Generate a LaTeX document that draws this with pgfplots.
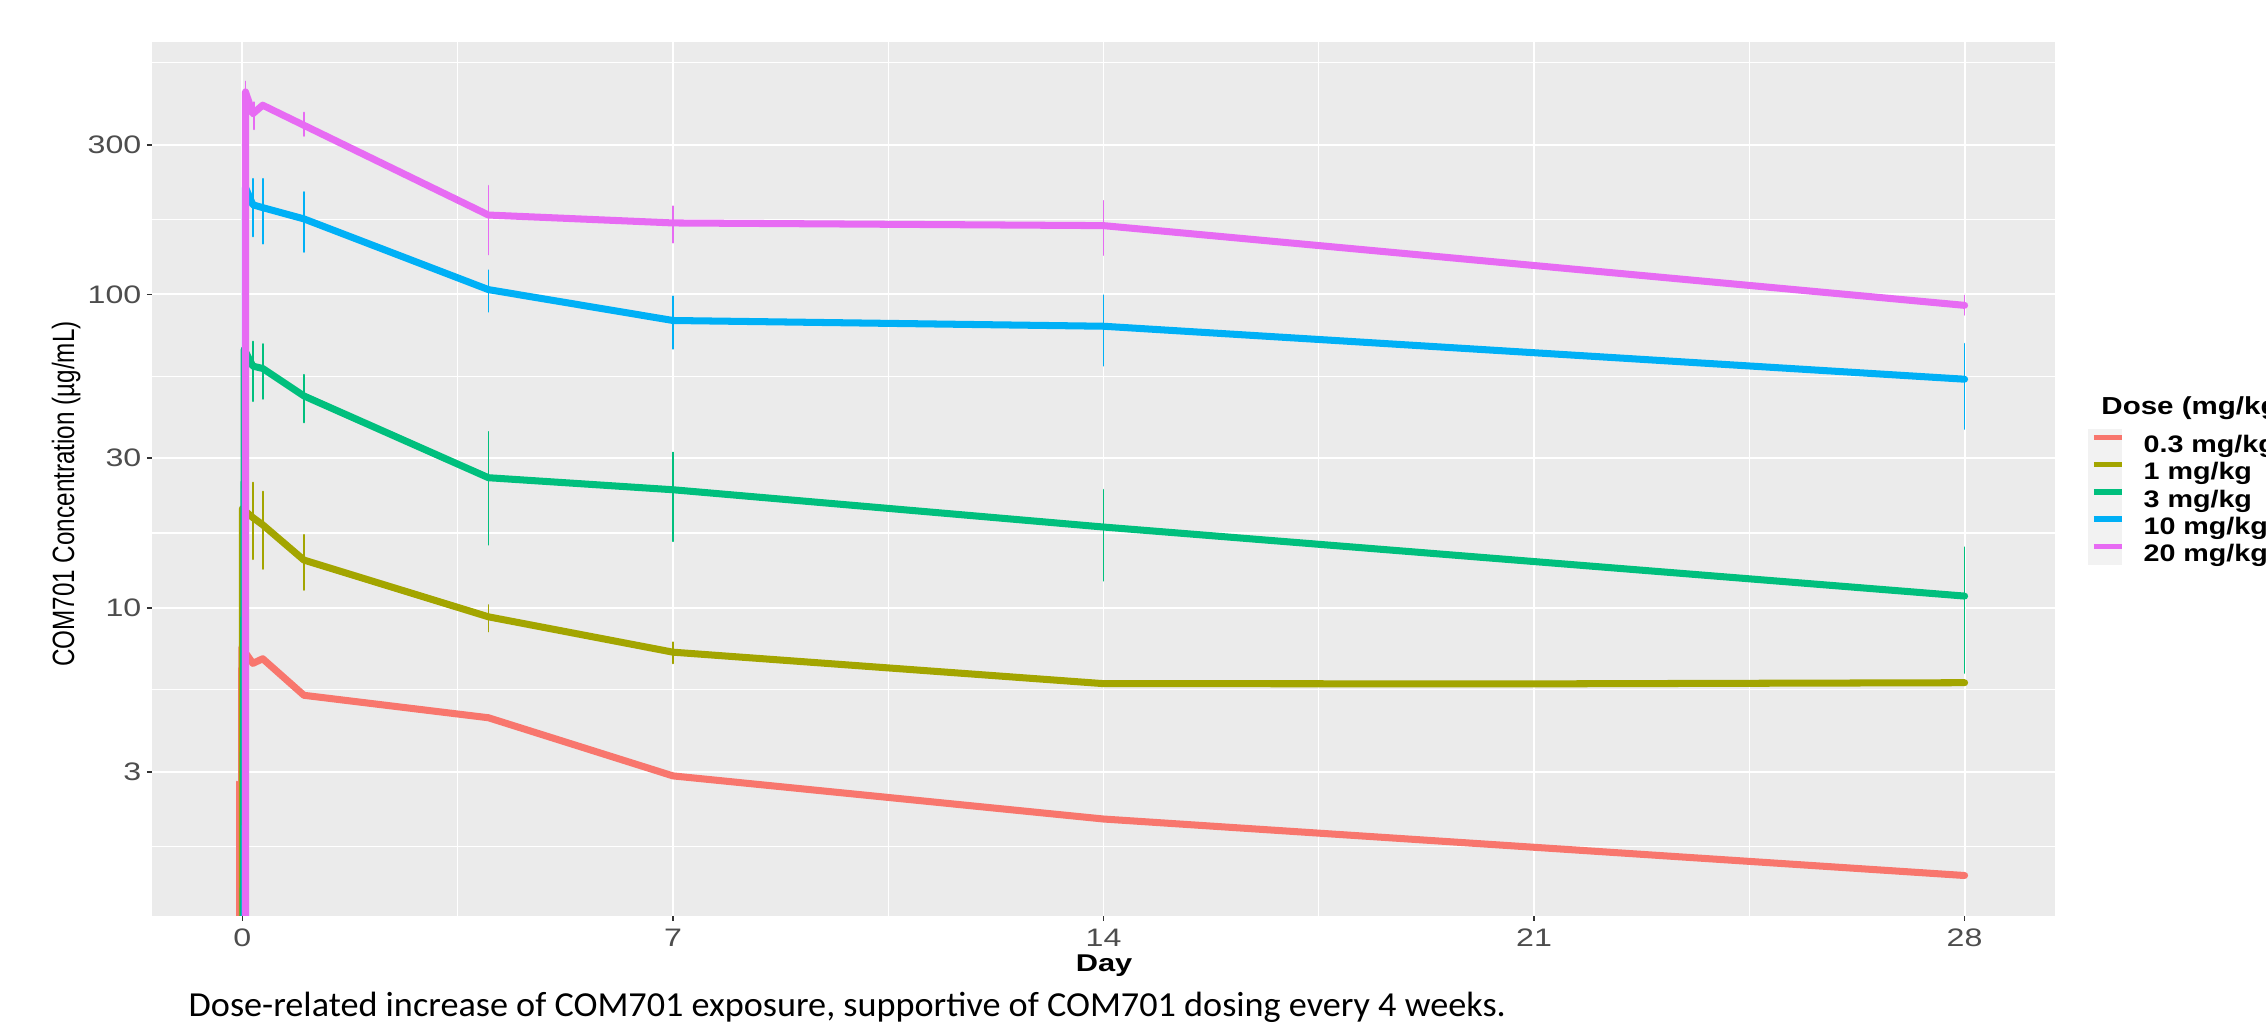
\documentclass[border=0pt]{standalone}
\usepackage{fontspec}
\setmainfont{Liberation Sans}[FakeStretch=1.27]
\newfontfamily\capfont{Carlito}[FakeStretch=1.03]
\newfontfamily\plainsans{Liberation Sans}
\newfontfamily\legsans{Liberation Sans}[FakeStretch=1.2]
\usepackage{graphicx}
\usepackage{pgfplots}
\pgfplotsset{compat=1.18}
\definecolor{sred}{HTML}{F8766D}
\definecolor{solive}{HTML}{A3A500}
\definecolor{sgreen}{HTML}{00BF7D}
\definecolor{sblue}{HTML}{00B0F6}
\definecolor{spink}{HTML}{E76BF3}
\definecolor{panel}{HTML}{EBEBEB}
\definecolor{keybg}{HTML}{F2F2F2}
\definecolor{gray20}{HTML}{333333}
\definecolor{gray30}{HTML}{4D4D4D}
\newcommand\ticksfont{\fontsize{7.2}{8.5}\selectfont}
\newcommand\legfont{\legsans\bfseries\fontsize{6.8}{8}\selectfont}
\begin{document}
\begin{tikzpicture}
\path[use as bounding box] (0,0) rectangle (226.6mm,102.8mm);
\fill[keybg] (208.8mm,46.3mm) rectangle (212.2mm,59.9mm);
\begin{axis}[
  at={(15.2mm,11.2mm)}, anchor=south west,
  scale only axis, width=190.3mm, height=87.4mm,
  xmin=-1.47, xmax=29.47, ymode=log, ymin=1.04, ymax=638,
  axis background/.style={fill=panel},
  axis line style={draw=none},
  xtick={0,7,14,21,28}, xticklabels={0,7,14,21,28},
  ytick={3,10,30,100,300}, yticklabels={3,10,30,100,300},
  minor xtick={3.5,10.5,17.5,24.5},
  minor ytick={1.732,5.477,17.32,54.77,173.2,547.7},
  grid=both,
  major grid style={white, line width=0.55pt},
  minor grid style={white, line width=0.35pt},
  tick pos=left, tick align=outside,
  major tick length=0.5mm, minor tick length=0pt,
  tick style={line width=0.45pt, color=gray20},
  ticklabel style={font=\ticksfont, text=gray30},
  yticklabel style={inner sep=0pt, xshift=-0.5mm},
  xticklabel style={inner sep=0pt, yshift=-0.7mm},
  legend style={at={(axis description cs:1.0189,0.5530)}, anchor=north west,
    draw=none, fill=none, inner sep=0pt, outer sep=0pt, font=\legfont, row sep=0pt,
    nodes={inner sep=0pt, text height=2.0mm, text depth=0.73mm},
    /tikz/every odd column/.style={column sep=1.9mm}},
  legend image code/.code={\draw[#1, line width=1.6pt, line cap=butt] (0mm,0.9mm) -- (2.8mm,0.9mm);},
  legend cell align=left,
  every axis plot/.append style={line join=round, line cap=round},
]
% mean concentration lines
\addplot[sred, line width=2.0pt] coordinates {(-0.02,0.5) (-0.01,7.46) (0.17,6.65) (0.33,6.88) (1,5.26) (4,4.46) (7,2.91) (14,2.12) (28,1.40)};
\addlegendentry{0.3 mg/kg}
\addplot[solive, line width=2.0pt] coordinates {(0,0.5) (0,20.7) (0.17,19.4) (0.33,18.4) (1,14.2) (4,9.36) (7,7.22) (14,5.73) (21,5.72) (28,5.77)};
\addlegendentry{1 mg/kg}
\addplot[sgreen, line width=2.0pt] coordinates {(0.01,0.5) (0.03,66.7) (0.17,59.0) (0.33,58.0) (1,47.4) (4,26.0) (7,23.8) (14,18.1) (28,10.9)};
\addlegendentry{3 mg/kg}
\addplot[sblue, line width=2.0pt] coordinates {(0.04,0.5) (0.05,219) (0.17,193) (0.33,189) (1,174) (4,103.5) (7,82.5) (14,79.1) (28,53.6)};
\addlegendentry{10 mg/kg}
\addplot[spink, line width=2.0pt] coordinates {(0.05,0.5) (0.05,442) (0.17,377) (0.33,401) (1,346) (4,179) (7,168.9) (14,165.6) (28,92.2)};
\addlegendentry{20 mg/kg}
% error bars
\addplot[sred, line width=0.5pt, forget plot] coordinates {(-0.094,0.5) (-0.094,2.79)};
\addplot[solive, line width=0.5pt, forget plot, unbounded coords=jump] coordinates {
 (0.17,14.3) (0.17,25.1) (0.17,nan)
 (0.33,13.3) (0.33,23.5) (0.33,nan)
 (1,11.4) (1,17.1) (1,nan)
 (4,8.4) (4,10.2) (4,nan)
 (7,6.65) (7,7.77)};
\addplot[sgreen, line width=0.5pt, forget plot, unbounded coords=jump] coordinates {
 (0.17,45.6) (0.17,70.7) (0.17,nan)
 (0.33,46.4) (0.33,69.4) (0.33,nan)
 (1,39.0) (1,55.4) (1,nan)
 (4,15.9) (4,36.4) (4,nan)
 (7,16.3) (7,31.3) (7,nan)
 (14,12.2) (14,23.8) (14,nan)
 (28,6.2) (28,15.6)};
\addplot[sblue, line width=0.5pt, forget plot, unbounded coords=jump] coordinates {
 (0.17,153) (0.17,233.7) (0.17,nan)
 (0.33,145) (0.33,233.7) (0.33,nan)
 (1,136.5) (1,212) (1,nan)
 (4,88) (4,119.3) (4,nan)
 (7,67) (7,98.5) (7,nan)
 (14,59.2) (14,99.3) (14,nan)
 (28,37.2) (28,69.5)};
\addplot[spink, line width=0.5pt, forget plot, unbounded coords=jump] coordinates {
 (0.05,387) (0.05,477) (0.05,nan)
 (0.19,336) (0.19,410) (0.19,nan)
 (1,320) (1,380) (1,nan)
 (4,134) (4,222) (4,nan)
 (7,146) (7,191) (7,nan)
 (14,133.4) (14,198.6) (14,nan)
 (28,86) (28,99)};
\end{axis}
\node[anchor=base west, font=\legsans\bfseries\fontsize{7}{8}\selectfont] at (208.9mm,61.3mm) {Dose (mg/kg)};
\node[anchor=base, font=\bfseries\fontsize{6.9}{8}\selectfont] at (110.4mm,5.6mm) {Day};
\node[rotate=90, anchor=base, font=\plainsans\fontsize{6.9}{8}\selectfont] at (7.4mm,53.4mm) {\scalebox{1}[1.27]{COM701 Concentration (µg/mL)}};
\node[anchor=base west, inner sep=0pt, font=\capfont\fontsize{10}{12}\selectfont] at (18.8mm,1.1mm) {Dose-related increase of COM701 exposure, supportive of COM701 dosing every 4 weeks.};
\end{tikzpicture}
\end{document}
